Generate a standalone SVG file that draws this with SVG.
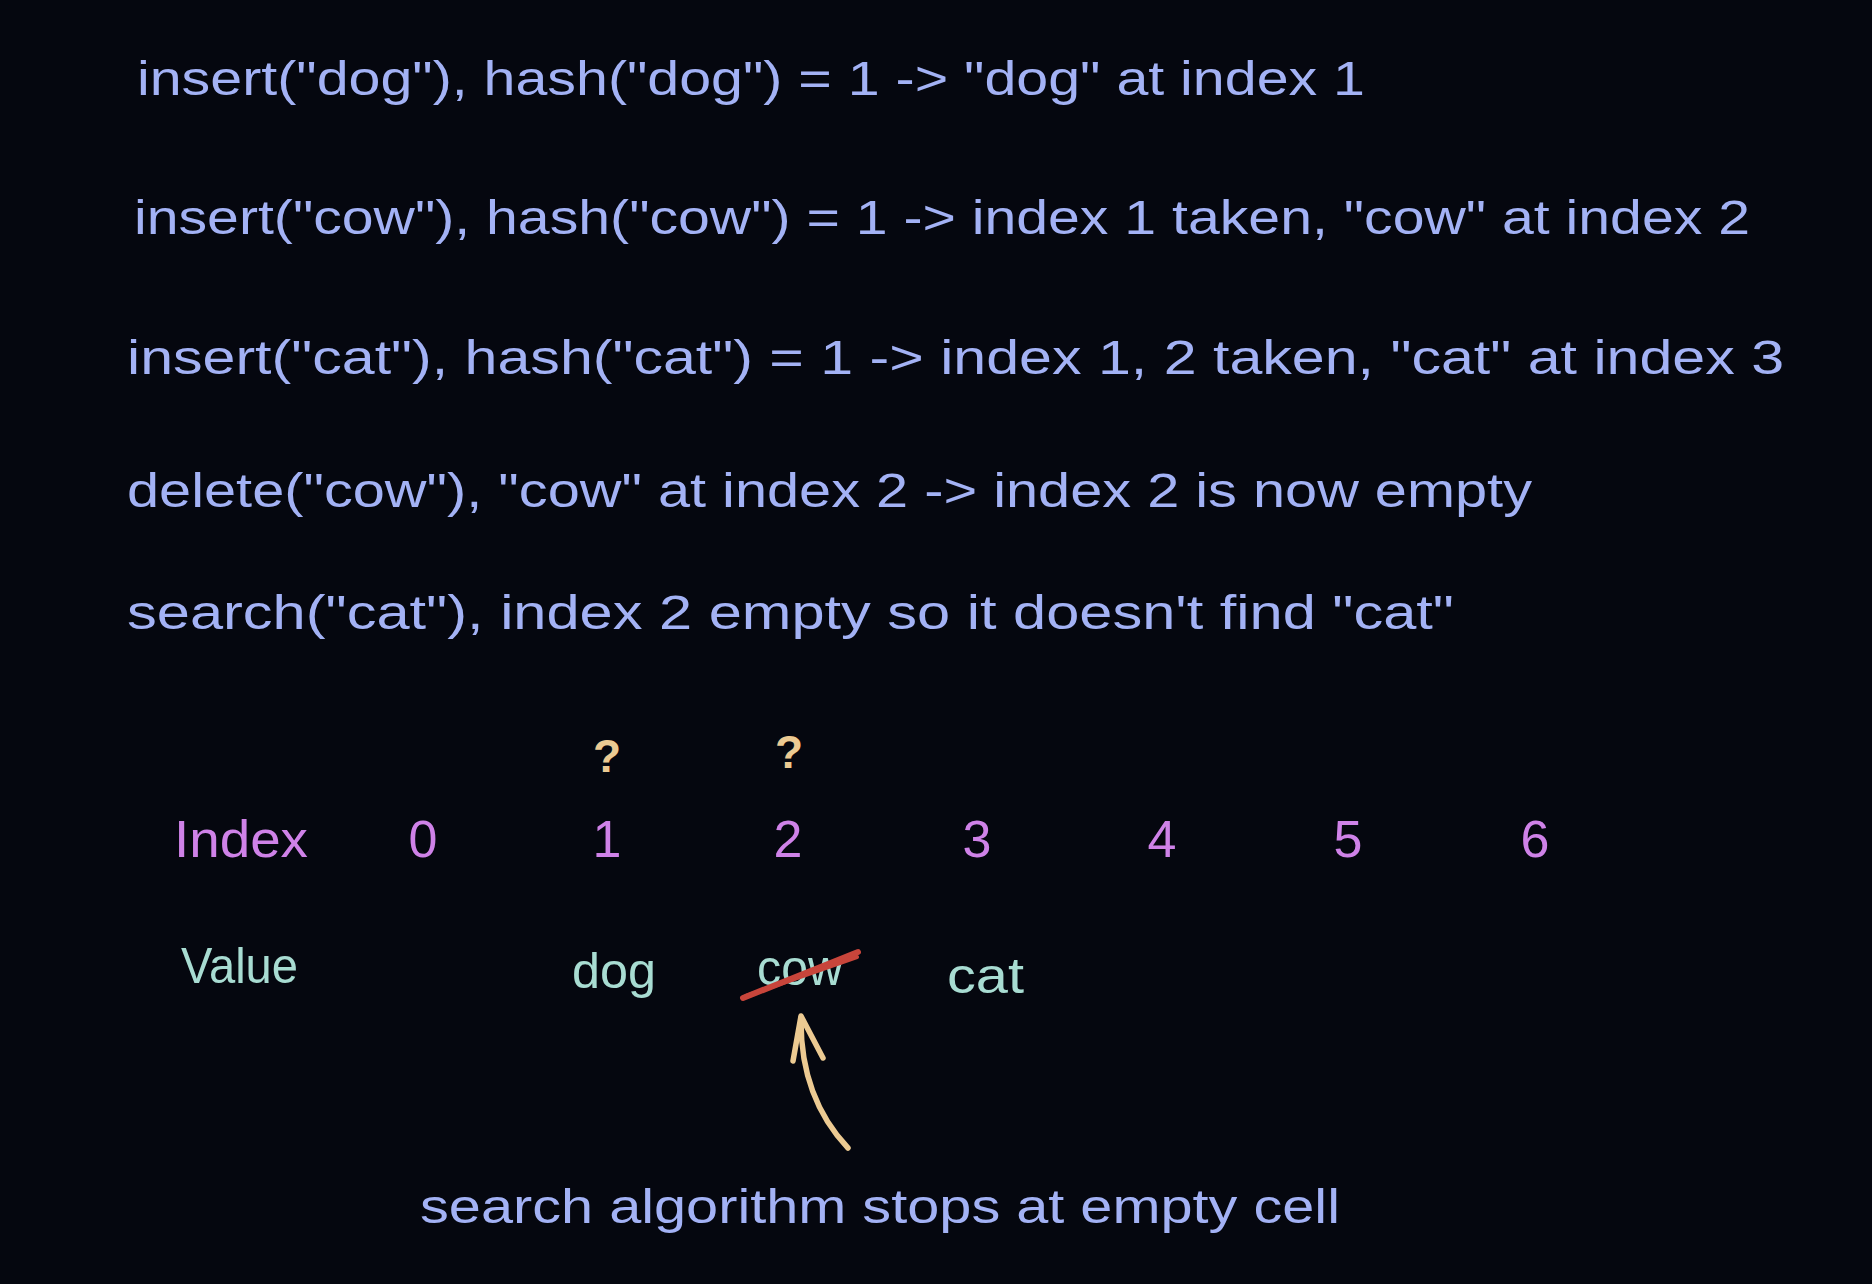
<svg xmlns="http://www.w3.org/2000/svg" width="1872" height="1284" viewBox="0 0 1872 1284">
  <style>
    .line { font-family: "Liberation Sans", Arial, sans-serif; font-size: 48px; fill: #a3b2f5; }
    .idx { font-family: "Liberation Sans", Arial, sans-serif; font-size: 52px; fill: #cf82e8; }
    .val { font-family: "Liberation Sans", Arial, sans-serif; font-size: 50px; fill: #a8dcd2; }
    .q { font-family: "Liberation Sans", Arial, sans-serif; font-size: 46px; font-weight: bold; fill: #ecca92; }
    .arrow { fill: none; stroke: #ecca92; stroke-width: 5.5; stroke-linecap: round; stroke-linejoin: round; }
  </style>
  <rect x="0" y="0" width="1872" height="1284" fill="#05070f"/>

  <g id="step-insert-dog"><text class="line" x="137" y="95" textLength="1228" lengthAdjust="spacingAndGlyphs">insert("dog"), hash("dog") = 1 -&gt; "dog" at index 1</text></g>
  <g id="step-insert-cow"><text class="line" x="134" y="234" textLength="1616" lengthAdjust="spacingAndGlyphs">insert("cow"), hash("cow") = 1 -&gt; index 1 taken, "cow" at index 2</text></g>
  <g id="step-insert-cat"><text class="line" x="127" y="374" textLength="1657" lengthAdjust="spacingAndGlyphs">insert("cat"), hash("cat") = 1 -&gt; index 1, 2 taken, "cat" at index 3</text></g>
  <g id="step-delete-cow"><text class="line" x="127" y="507" textLength="1405" lengthAdjust="spacingAndGlyphs">delete("cow"), "cow" at index 2 -&gt; index 2 is now empty</text></g>
  <g id="step-search-cat"><text class="line" x="127" y="629" textLength="1327" lengthAdjust="spacingAndGlyphs">search("cat"), index 2 empty so it doesn't find "cat"</text></g>

  <g id="question-1"><text class="q" x="607" y="772" text-anchor="middle">?</text></g>
  <g id="question-2"><text class="q" x="789" y="768" text-anchor="middle">?</text></g>

  <g id="index-row">
    <text class="idx" x="174" y="857" textLength="134" lengthAdjust="spacingAndGlyphs">Index</text>
    <text class="idx" x="423" y="857" text-anchor="middle">0</text>
    <text class="idx" x="607" y="857" text-anchor="middle">1</text>
    <text class="idx" x="788" y="857" text-anchor="middle">2</text>
    <text class="idx" x="977" y="857" text-anchor="middle">3</text>
    <text class="idx" x="1162" y="857" text-anchor="middle">4</text>
    <text class="idx" x="1348" y="857" text-anchor="middle">5</text>
    <text class="idx" x="1535" y="857" text-anchor="middle">6</text>
  </g>

  <g id="value-row">
    <text class="val" x="181" y="983" textLength="117" lengthAdjust="spacingAndGlyphs">Value</text>
    <text class="val" x="572" y="988" textLength="84" lengthAdjust="spacingAndGlyphs">dog</text>
    <text class="val" x="757" y="985" textLength="86" lengthAdjust="spacingAndGlyphs">cow</text>
    <text class="val" x="947" y="993" textLength="77" lengthAdjust="spacingAndGlyphs">cat</text>
  </g>

  <g id="strike">
    <path d="M743,998 L858,952" fill="none" stroke="#c8453b" stroke-width="6" stroke-linecap="round"/>
    <path d="M746,996 L857,957" fill="none" stroke="#c8453b" stroke-width="4" stroke-linecap="round"/>
  </g>

  <g id="note"><text class="line" x="420" y="1223" textLength="920" lengthAdjust="spacingAndGlyphs">search algorithm stops at empty cell</text></g>

  <g id="connectors">
    <path class="arrow" d="M848,1148 Q800,1097 801,1018"/>
    <path class="arrow" d="M793,1061 L801,1016 L823,1058"/>
  </g>
</svg>
